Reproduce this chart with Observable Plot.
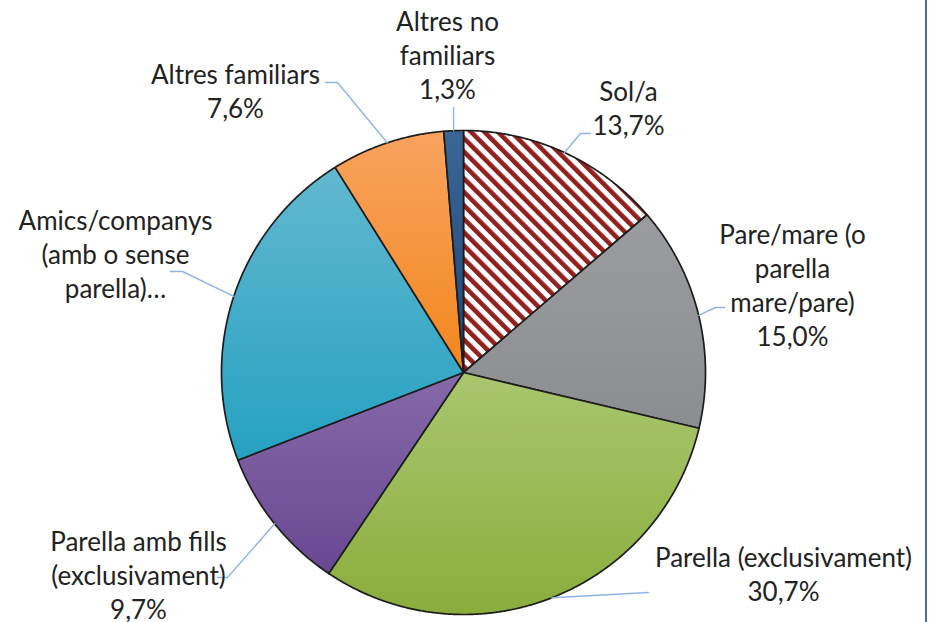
<!DOCTYPE html>
<html><head><meta charset="utf-8">
<script src="https://cdn.jsdelivr.net/npm/d3@7"></script>
<script src="https://cdn.jsdelivr.net/npm/@observablehq/plot@0.6"></script>
<style>
html,body{margin:0;padding:0;background:#fff;}
#wrap{position:relative;width:932px;height:622px;overflow:hidden;}
#frame{position:absolute;left:925px;top:0;width:2px;height:622px;background:#41719c;}
</style></head><body><div id="wrap"><div id="frame"></div></div>
<script>
// ---- data ----
const categories = ["Sol/a", "Pare/mare (o parella mare/pare)", "Parella (exclusivament)", "Parella amb fills (exclusivament)", "Amics/companys (amb o sense parella)", "Altres familiars", "Altres no familiars"];
const values = [13.7, 15.0, 30.7, 9.7, 22.0, 7.6, 1.3];
const labelTexts = ["Sol/a", "Pare/mare (o\nparella\nmare/pare)", "Parella (exclusivament)", "Parella amb fills\n(exclusivament)", "Amics/companys\n(amb o sense\nparella)…", "Altres familiars", "Altres no\nfamiliars"];
const showValue = [true, true, true, true, false, true, true];

// ---- styles ----
const gradTop    = [null, "#9b9c9f", "#a9c66f", "#8669a9", "#62b8cf", "#f9a35f", "#3b6696"];
const gradBottom = [null, "#8c8d90", "#8aad3c", "#694892", "#25a1c2", "#f2871d", "#1f4677"];
const sliceFill = categories.map((c, i) => i === 0 ? "url(#hatch)" : `url(#grad${i})`);

// ---- layout (pixels) ----
const CX = 463, CY = 372, R = 242;
const labelPos = [[628, 107], [792, 284], [783, 573], [138, 574], [115, 253], [235, 90], [447, 54]];
const leaderTail = [
  [[580, 133], [590, 133]],
  [[715, 307], [724, 307]],
  [[648, 592]],
  [[227, 577], [217, 577]],
  [[182, 271], [170, 271]],
  [[337, 82], [325, 82]],
  [[453, 107]]
];
const ux = px => (px - CX) / R;
const uy = py => (CY - py) / R;

// ---- geometry from data ----
const total = d3.sum(values);
let acc = 0;
const slices = categories.map((key, i) => {
  const a0 = acc / total * 2 * Math.PI;
  acc += values[i];
  const a1 = acc / total * 2 * Math.PI;
  return {key, a0, a1, mid: (a0 + a1) / 2, i};
});
const piePts = [];
for (const s of slices) {
  piePts.push({key: s.key, x: 0, y: 0});
  const n = Math.max(2, Math.ceil((s.a1 - s.a0) / 0.005));
  for (let k = 0; k <= n; k++) {
    const t = s.a0 + (s.a1 - s.a0) * k / n;
    piePts.push({key: s.key, x: Math.sin(t), y: Math.cos(t)});
  }
}
const leaderPts = [];
for (const s of slices) {
  leaderPts.push({key: s.key, x: Math.sin(s.mid), y: Math.cos(s.mid)});
  for (const [px, py] of leaderTail[s.i]) leaderPts.push({key: s.key, x: ux(px), y: uy(py)});
}
const fmt = v => v.toFixed(1).replace(".", ",") + "%";
const labels = slices.map(s => ({
  key: s.key,
  x: ux(labelPos[s.i][0]),
  y: uy(labelPos[s.i][1]),
  text: labelTexts[s.i] + (showValue[s.i] ? "\n" + fmt(values[s.i]) : "")
}));

const chart = Plot.plot({
  width: 932, height: 622,
  margin: 0,
  x: {domain: [-1, 1], range: [CX - R, CX + R], axis: null},
  y: {domain: [-1, 1], range: [CY + R, CY - R], axis: null},
  color: {type: "ordinal", domain: categories, range: sliceFill},
  style: {fontFamily: "Lato, 'Open Sans', sans-serif", background: "transparent"},
  marks: [
    Plot.line(piePts, {x: "x", y: "y", z: "key", fill: "key", stroke: "#1c1c1c", strokeWidth: 1.7, strokeLinejoin: "round", curve: "linear-closed"}),
    Plot.line(leaderPts, {x: "x", y: "y", z: "key", stroke: "#8fb5e4", strokeWidth: 1.4}),
    Plot.text(labels, {x: "x", y: "y", text: "text", fontSize: 26, lineHeight: 1.31, fill: "#222"})
  ]
});

let defs = `<defs><pattern id="hatch" patternUnits="userSpaceOnUse" width="9.5" height="9.5" patternTransform="rotate(-45)"><rect width="9.5" height="9.5" fill="#fff"/><rect width="4.6" height="9.5" fill="#92201f"/></pattern>`;
for (let i = 1; i < categories.length; i++) {
  defs += `<linearGradient id="grad${i}" x1="0" y1="0" x2="0" y2="1"><stop offset="0" stop-color="${gradTop[i]}"/><stop offset="1" stop-color="${gradBottom[i]}"/></linearGradient>`;
}
defs += `</defs>`;
chart.insertAdjacentHTML("afterbegin", defs);
document.getElementById("wrap").prepend(chart);
</script></body></html>
